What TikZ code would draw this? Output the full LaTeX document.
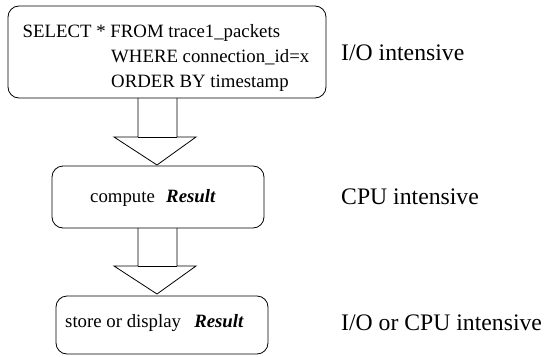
\documentclass[tikz,border=0pt]{standalone}
\usepackage{fontspec}
\setmainfont{Liberation Serif}
\begin{document}
\begin{tikzpicture}[x=1pt,y=-1pt,
  box/.style={draw,line width=0.8pt,rounded corners=11pt},
  flow/.style={draw,line width=0.8pt,line join=miter},
  boxtext/.style={font=\fontsize{18.8}{25}\selectfont,inner sep=0pt,anchor=base west},
  side/.style={font=\fontsize{23.7}{28}\selectfont,inner sep=0pt,anchor=base west}]
\useasboundingbox (0,0) rectangle (546,356);
% boxes
\draw[box] (8,6) rectangle (326,98);
\draw[box] (52,166) rectangle (264,228);
\draw[box] (56,296) rectangle (268,354);
% texts in top box
\node[boxtext] (l1) at (22.5,37) {SELECT * FROM trace1\_packets};
\node[boxtext] (l2) at (111,62) {WHERE connection\_id=x};
\node[boxtext] (l3) at (111,87) {ORDER BY timestamp};
% middle
\node[boxtext] (c) at (90,202) {compute\hspace{0.6em}\textbf{\textit{Result}}};
% bottom
\node[boxtext] (s) at (65,327) {store or display\hspace{0.7em}\textbf{\textit{Result}}};
% arrows
\draw[flow] (138,98) -- (138,137) -- (114,137) -- (157,165) -- (196,137) -- (177,137) -- (177,98);
\draw[flow] (138,137) -- (177,137);
\draw[flow] (138,228) -- (138,266) -- (114,266) -- (157,294) -- (196,266) -- (177,266) -- (177,228);
\draw[flow] (138,266) -- (177,266);
% side labels
\node[side] (s1) at (341,60) {I/O intensive};
\node[side] (s2) at (341,204) {CPU intensive};
\node[side] (s3) at (341,330) {I/O or CPU intensive};
\end{tikzpicture}
\end{document}
